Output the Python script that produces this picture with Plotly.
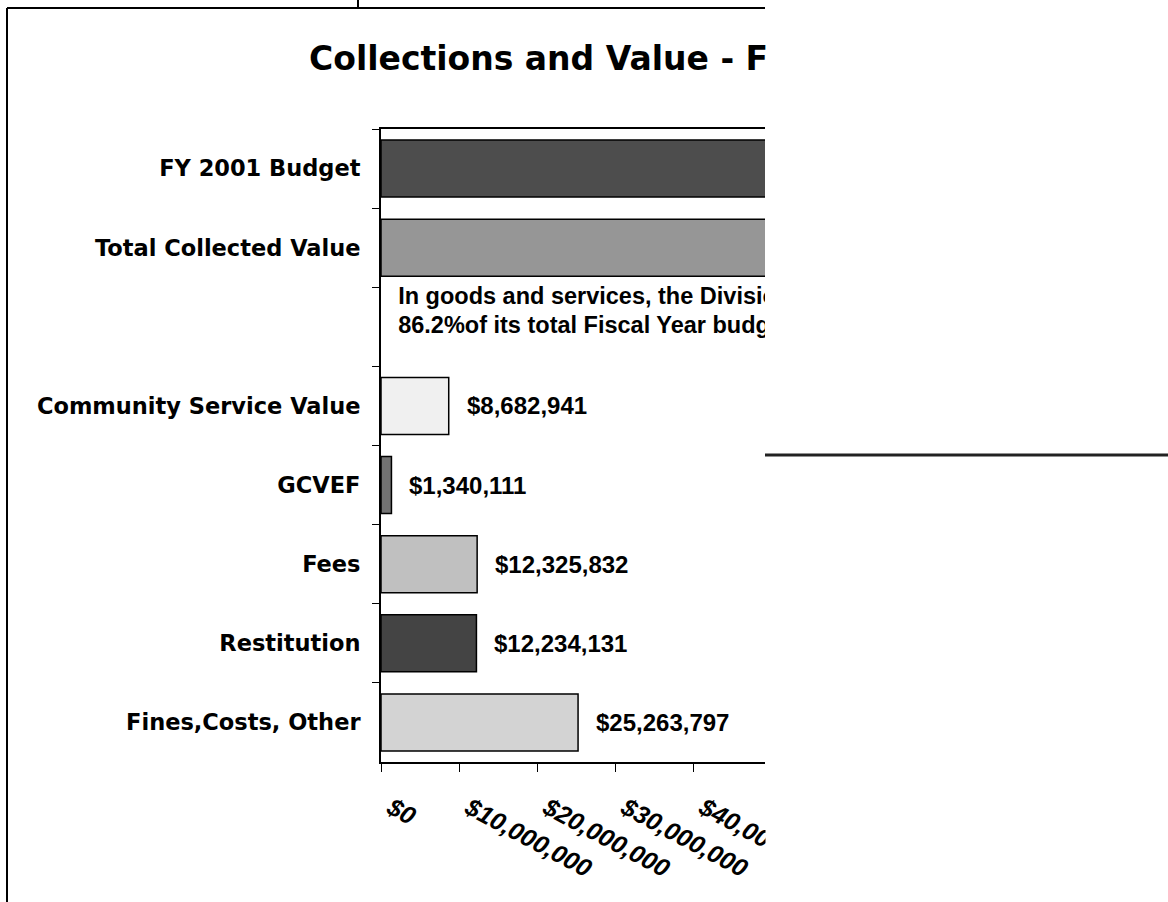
import plotly.graph_objects as go

# ---------------- data ----------------
categories = ["FY 2001 Budget", "Total Collected Value", " ", "Community Service Value",
              "GCVEF", "Fees", "Restitution", "Fines,Costs, Other"]
values = [69427856, 59846812, None, 8682941, 1340111, 12325832, 12234131, 25263797]
value_labels = ["", "", "", "$8,682,941", "$1,340,111", "$12,325,832", "$12,234,131", "$25,263,797"]
bar_colors = ["#4d4d4d", "#969696", "#ffffff", "#f0f0f0", "#737373", "#c0c0c0", "#444444", "#d3d3d3"]
x_tickvals = [0, 10000000, 20000000, 30000000, 40000000]
x_ticktext = ["$0", "$10,000,000", "$20,000,000", "$30,000,000", "$40,000,000"]
note_lines = ["In goods and services, the Division collected",
              "86.2%of its total Fiscal Year budget."]
title_text = "Collections and Value - F"

# ---------------- geometry ----------------
W, H = 1168, 902
L, R, T, B = 381, 765, 129, 762          # plot area in pixels
XMAX = (R - L) / 78.0 * 10000000         # 78 px per $10M


def px(xp):
    return (xp - L) / (R - L)


def py(yp):
    return (B - yp) / (B - T)


fig = go.Figure()

fig.add_trace(go.Bar(
    y=categories, x=values, orientation="h",
    marker=dict(color=bar_colors, line=dict(color="#000000", width=1.5)),
    width=0.72, showlegend=False, hoverinfo="skip",
))

# note text inside plot area (clipped by plot area like the reference)
fig.add_trace(go.Scatter(
    x=[2200000, 2200000], y=[py(298), py(327)], yaxis="y2",
    mode="text", text=note_lines, textposition="middle right",
    textfont=dict(family="Liberation Sans, Arial", size=23.5, color="#000000", weight="bold"),
    showlegend=False, hoverinfo="skip", cliponaxis=True,
))

annotations = []
for c, v, t in zip(categories, values, value_labels):
    if t:
        annotations.append(dict(
            x=v, y=c, xref="x", yref="y", text=t, showarrow=False,
            xanchor="left", yanchor="middle", xshift=16,
            font=dict(family="Liberation Sans, Arial", size=24, color="#000000", weight="bold"),
        ))

annotations.append(dict(
    x=px(307), y=py(58), xref="paper", yref="paper", text=title_text, showarrow=False,
    xanchor="left", yanchor="middle",
    font=dict(family="DejaVu Sans", size=33, color="#000000", weight="bold"),
))

shapes = [
    # white mask for the cropped right part
    dict(type="rect", xref="paper", yref="paper", x0=px(R + 0.5), x1=px(W + 50),
         y0=py(H + 50), y1=py(-50), fillcolor="#ffffff", line=dict(width=0), layer="above"),
    # outer frame pieces
    dict(type="line", xref="paper", yref="paper", x0=px(7), x1=px(R), y0=py(8), y1=py(8),
         line=dict(color="#000000", width=2), layer="above"),
    dict(type="line", xref="paper", yref="paper", x0=px(7), x1=px(7), y0=py(8), y1=py(H + 5),
         line=dict(color="#000000", width=2), layer="above"),
    dict(type="line", xref="paper", yref="paper", x0=px(358), x1=px(358), y0=py(-2), y1=py(8),
         line=dict(color="#000000", width=2), layer="above"),
    dict(type="line", xref="paper", yref="paper", x0=px(R), x1=px(W + 5), y0=py(455), y1=py(455),
         line=dict(color="#222222", width=3), layer="above"),
]

fig.update_layout(
    width=W, height=H,
    margin=dict(l=L, r=W - R, t=T, b=H - B, autoexpand=False),
    paper_bgcolor="#ffffff", plot_bgcolor="#ffffff",
    bargap=0.28,
    annotations=annotations,
    shapes=shapes,
    xaxis=dict(
        range=[0, XMAX], tickvals=x_tickvals, ticktext=x_ticktext,
        showgrid=False, zeroline=False,
        showline=True, linecolor="#000000", linewidth=2, mirror=True,
        ticks="outside", ticklen=8, tickwidth=1, tickcolor="#000000",
        tickangle=28, ticklabelstandoff=12, ticklabelshift=10,
        tickfont=dict(family="Liberation Sans, Arial", size=25, color="#000000",
                      weight="bold", style="italic"),
        fixedrange=True,
    ),
    yaxis=dict(
        type="category", categoryorder="array", categoryarray=categories,
        autorange="reversed",
        showgrid=False, zeroline=False,
        showline=True, linecolor="#000000", linewidth=2,
        ticks="outside", ticklen=7, tickwidth=1, tickcolor="#000000",
        tickson="boundaries", ticklabelstandoff=14,
        tickfont=dict(family="DejaVu Sans", size=22.5, color="#000000", weight="bold"),
        fixedrange=True,
    ),
    yaxis2=dict(overlaying="y", range=[0, 1], visible=False, fixedrange=True),
)

fig.write_html("out.html", config={"displayModeBar": False},
               post_script="document.body.style.margin='0px';")
